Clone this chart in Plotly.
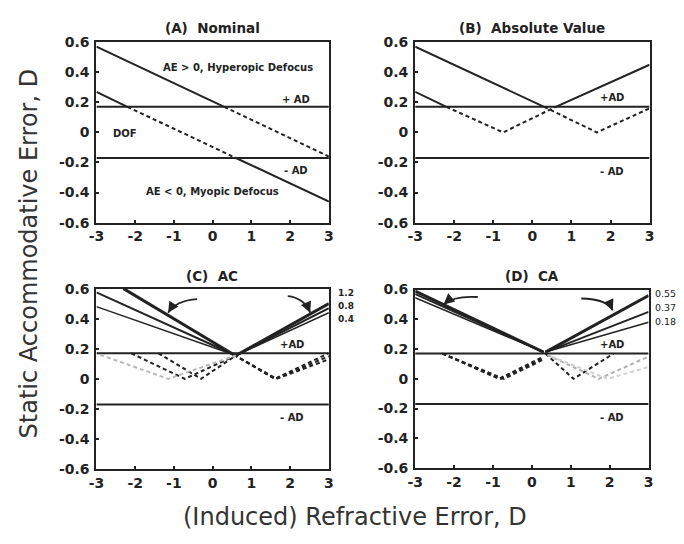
import math
import plotly.graph_objects as go

# ---------------- data ----------------
AD = 0.17                                   # +/- accommodative DOF limit
x_ticks = [-3, -2, -1, 0, 1, 2, 3]
x_tick_text = ["-3", "-2", "-1", "0", "1", "2", "3"]
y_ticks = [-0.6, -0.4, -0.2, 0, 0.2, 0.4, 0.6]
y_tick_text = ["-0.6", "-0.4", "-0.2", "0", "0.2", "0.4", "0.6"]

# (A) Nominal
a_hyper_solid_x = [-3, 0.3];        a_hyper_solid_y = [0.57, 0.17]
a_hyper_dof_x = [0.3, 3];           a_hyper_dof_y = [0.17, -0.16]
a_myop_solid1_x = [-3, -2.2];       a_myop_solid1_y = [0.27, 0.17]
a_myop_dof_x = [-2.2, 0.6];         a_myop_dof_y = [0.17, -0.17]
a_myop_solid2_x = [0.6, 3];         a_myop_solid2_y = [-0.17, -0.46]

# (B) Absolute Value
b_hyper_solid_x = [-3, 0.3];        b_hyper_solid_y = [0.57, 0.17]
b_hyper_dof_x = [0.3, 1.65, 3];     b_hyper_dof_y = [0.17, 0, 0.16]
b_myop_solid1_x = [-3, -2.2];       b_myop_solid1_y = [0.27, 0.17]
b_myop_dof_x = [-2.2, -0.75, 0.6];  b_myop_dof_y = [0.17, 0, 0.17]
b_myop_solid2_x = [0.6, 3];         b_myop_solid2_y = [0.17, 0.45]

# (C) AC  -- gains 1.2, 0.8, 0.4
c_gains = ["1.2", "0.8", "0.4"]
c_left_x = [[-2.3, 0.55], [-3, 0.55], [-3, 0.55]]
c_left_y = [[0.6, 0.16], [0.575, 0.16], [0.48, 0.16]]
c_right_x = [[0.6, 3], [0.6, 3], [0.6, 3]]
c_right_y = [[0.155, 0.50], [0.155, 0.47], [0.155, 0.44]]
c_hyper_dof_x = [[0.55, 1.6, 3], [0.55, 1.62, 3], [0.55, 1.65, 3]]
c_hyper_dof_y = [[0.16, 0, 0.17], [0.16, 0, 0.15], [0.16, 0, 0.13]]
c_myop_dof_x = [[-1.4, -0.3, 0.6], [-2.1, -0.72, 0.6], [-2.9, -1.15, 0.6]]
c_myop_dof_y = [[0.17, 0, 0.155], [0.17, 0, 0.155], [0.16, 0, 0.155]]

# (D) CA  -- gains 0.55, 0.37, 0.18
d_gains = ["0.55", "0.37", "0.18"]
d_left_x = [[-3, 0.3], [-3, 0.3], [-3, 0.3]]
d_left_y = [[0.59, 0.18], [0.57, 0.18], [0.545, 0.18]]
d_right_x = [[0.35, 3], [0.35, 3], [0.35, 3]]
d_right_y = [[0.18, 0.56], [0.18, 0.45], [0.18, 0.38]]
d_myop_dof_x = [[-2.3, -0.85, 0.3], [-2.3, -0.8, 0.3], [-2.3, -0.72, 0.3]]
d_myop_dof_y = [[0.17, 0, 0.15], [0.17, 0, 0.14], [0.17, 0, 0.13]]
d_hyper_dof_x = [[0.35, 1.07, 2.1], [0.4, 1.72, 3], [0.5, 1.95, 3]]
d_hyper_dof_y = [[0.17, 0, 0.17], [0.16, 0, 0.15], [0.15, 0, 0.08]]

# ---------------- styling ----------------
INK = "#222222"
OFF = 8                       # page body margin of the browser
W, H = 684 - OFF, 544 - OFF   # figure fits the window inside the body margin
FONT = "DejaVu Sans"

fig = go.Figure()

def line(xs, ys, ax, dash="solid", width=2.0, color=INK):
    fig.add_trace(go.Scatter(x=xs, y=ys, mode="lines", xaxis="x" + ax, yaxis="y" + ax,
                             line=dict(color=color, width=width, dash=dash),
                             showlegend=False, hoverinfo="skip"))

DASH = "4px,3px"
axes = ["", "2", "3", "4"]

# AD limits in every panel
for ax in axes:
    line([-3, 3], [AD, AD], ax)
    line([-3, 3], [-AD, -AD], ax)

# A
line(a_hyper_solid_x, a_hyper_solid_y, "")
line(a_hyper_dof_x, a_hyper_dof_y, "", DASH)
line(a_myop_solid1_x, a_myop_solid1_y, "")
line(a_myop_dof_x, a_myop_dof_y, "", DASH)
line(a_myop_solid2_x, a_myop_solid2_y, "")

# B
line(b_hyper_solid_x, b_hyper_solid_y, "2")
line(b_hyper_dof_x, b_hyper_dof_y, "2", DASH)
line(b_myop_solid1_x, b_myop_solid1_y, "2")
line(b_myop_dof_x, b_myop_dof_y, "2", DASH)
line(b_myop_solid2_x, b_myop_solid2_y, "2")

widths = [3.0, 2.0, 1.5]
c_dash_colors = [INK, INK, "#b8b8b8"]
d_dash_colors = [INK, "#b0b0b0", "#d0d0d0"]

# C
for i in range(3):
    line(c_left_x[i], c_left_y[i], "3", width=widths[i])
    line(c_right_x[i], c_right_y[i], "3", width=widths[i])
    line(c_hyper_dof_x[i], c_hyper_dof_y[i], "3", DASH, 2.0)
    line(c_myop_dof_x[i], c_myop_dof_y[i], "3", DASH, 2.0, c_dash_colors[i])

# D
for i in range(3):
    line(d_left_x[i], d_left_y[i], "4", width=widths[i])
    line(d_right_x[i], d_right_y[i], "4", width=widths[i])
    line(d_myop_dof_x[i], d_myop_dof_y[i], "4", DASH, 2.0)
    line(d_hyper_dof_x[i], d_hyper_dof_y[i], "4", DASH, 2.0, d_dash_colors[i])

# ---------------- axes ----------------
def PX(x):   # window pixel -> paper fraction
    return (x - OFF) / W

def PY(y):
    return 1 - (y - OFF) / H

panels = {
    "": ([PX(90), PX(327)], [PY(221), PY(35)]),
    "2": ([PX(415), PX(654)], [PY(221), PY(35)]),
    "3": ([PX(90), PX(327)], [PY(475), PY(289)]),
    "4": ([PX(415), PX(653)], [PY(474), PY(290)]),
}

tickfont = dict(family=FONT, size=14, color=INK, weight=700)
for ax, (xd, yd) in panels.items():
    common = dict(showgrid=False, zeroline=False, showline=True, mirror=True,
                  linecolor=INK, linewidth=2, ticks="inside", ticklen=3,
                  tickwidth=1.5, tickcolor=INK, tickfont=tickfont)
    fig.update_layout(**{
        "xaxis" + ax: dict(domain=xd, range=[-3, 3], tickvals=x_ticks, ticktext=x_tick_text,
                           anchor="y" + ax, ticklabelstandoff=0, **common),
        "yaxis" + ax: dict(domain=yd, range=[-0.6, 0.6], tickvals=y_ticks, ticktext=y_tick_text,
                           anchor="x" + ax, ticklabelstandoff=2, **common),
    })

ann = []
def txt(text, x, y, size=9, ax=None, xanchor="center", weight=700, color=INK, angle=0):
    d = dict(text=text, x=x, y=y, showarrow=False, xanchor=xanchor, yanchor="middle",
             font=dict(family=FONT, size=size, color=color, weight=weight), textangle=angle)
    if ax is None:
        d.update(xref="paper", yref="paper")
    else:
        d.update(xref="x" + ax, yref="y" + ax)
    ann.append(d)

# panel titles
txt("(A)  Nominal", PX(208), PY(20), 13.5)
txt("(B)  Absolute Value", PX(534), PY(20), 13.5)
txt("(C)  AC", PX(208), PY(276), 13.5)
txt("(D)  CA", PX(534), PY(276), 13.5)

# axis titles
txt("(Induced) Refractive Error, D", PX(354), PY(524), 24, weight=400, color="#333333")
txt("Static Accommodative Error, D", PX(21), PY(253), 24, weight=400, color="#333333", angle=-90)

# in-panel labels
txt("AE > 0, Hyperopic Defocus", 0.65, 0.43, 10, "")
txt("+ AD", 2.15, 0.22, 10, "")
txt("DOF", -2.25, -0.01, 10, "")
txt("- AD", 2.15, -0.25, 10, "")
txt("AE < 0, Myopic Defocus", 0.0, -0.39, 10, "")
for ax in ["2", "3", "4"]:
    txt("+AD", 2.05, 0.23, 10, ax)
    txt("- AD", 2.05, -0.26, 10, ax)

# gain labels
for i, g in enumerate(c_gains):
    txt(g, PX(334), PY(294 + 13 * i), 9, xanchor="left")
for i, g in enumerate(d_gains):
    txt(g, PX(657), PY(294 + 14.5 * i), 9.5, xanchor="left", weight=400)

# curved arrows (C and D)
PX_X, PX_Y = 237 / 6, 186 / 1.2
arrows = [
    ("3", (-0.4, 0.53), (-0.95, 0.52), (-1.15, 0.44)),
    ("3", (1.94, 0.55), (2.35, 0.54), (2.52, 0.44)),
    ("4", (-1.39, 0.55), (-2.0, 0.56), (-2.27, 0.50)),
    ("4", (1.27, 0.54), (1.95, 0.535), (2.08, 0.46)),
]
shapes = []
for ax, p0, c, p1 in arrows:
    shapes.append(dict(type="path", xref="x" + ax, yref="y" + ax,
                       path=f"M {p0[0]},{p0[1]} Q {c[0]},{c[1]} {p1[0]},{p1[1]}",
                       line=dict(color=INK, width=1.8)))
    dx = (c[0] - p1[0]) * PX_X
    dy = -(c[1] - p1[1]) * PX_Y
    n = math.hypot(dx, dy)
    ann.append(dict(x=p1[0], y=p1[1], ax=dx / n * 9, ay=dy / n * 9,
                    xref="x" + ax, yref="y" + ax,
                    text="", showarrow=True, arrowhead=2, arrowsize=1.2, arrowwidth=1.8,
                    arrowcolor=INK))

fig.update_layout(width=W, height=H, margin=dict(l=0, r=0, t=0, b=0),
                  paper_bgcolor="white", plot_bgcolor="white",
                  annotations=ann, shapes=shapes, showlegend=False)

fig.write_html("out.html")
